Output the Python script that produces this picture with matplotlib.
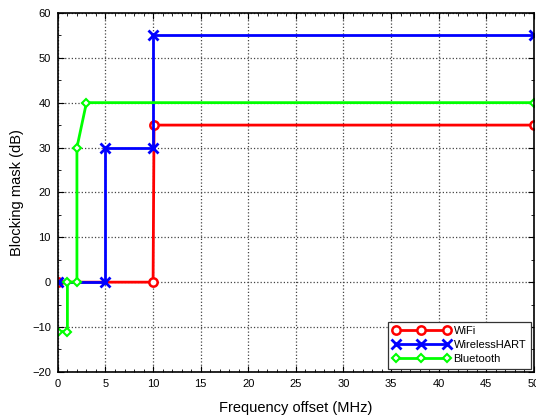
import matplotlib
matplotlib.use("Agg")
import matplotlib.pyplot as plt
from matplotlib.ticker import MultipleLocator

wifi_x = [0, 10, 10.1, 50]
wifi_y = [0, 0, 35, 35]
hart_x = [0, 5, 5, 10, 10, 50]
hart_y = [0, 0, 30, 30, 55, 55]
bt_x = [0, 1, 1, 2, 2, 3, 50]
bt_y = [-11, -11, 0, 0, 30, 40, 40]

plt.rcParams['font.family'] = ['Liberation Sans', 'DejaVu Sans']
fig = plt.figure(figsize=(5.36, 4.16), dpi=100)
ax = fig.add_axes([0.108, 0.106, 0.888, 0.863])

ax.plot(wifi_x, wifi_y, color='#ff0000', lw=2, marker='o', ms=6, mfc='white', mew=1.8, label='WiFi')
ax.plot(hart_x, hart_y, color='#0000ff', lw=2, marker='x', ms=7, mew=2, label='WirelessHART')
ax.plot(bt_x, bt_y, color='#00ff00', lw=2, marker='D', ms=4, mfc='white', mew=1.5, label='Bluetooth')

ax.set_xlim(0, 50)
ax.set_ylim(-20, 60)
ax.xaxis.set_major_locator(MultipleLocator(5))
ax.xaxis.set_minor_locator(MultipleLocator(1))
ax.yaxis.set_major_locator(MultipleLocator(10))
ax.yaxis.set_minor_locator(MultipleLocator(5))
ax.tick_params(which='both', direction='in', top=True, right=True, labelsize=8)
ax.tick_params(which='major', length=4, pad=5)
ax.tick_params(which='minor', length=2)
ax.grid(True, which='major', color='#444444', linestyle=':', linewidth=0.9)
for s in ax.spines.values():
    s.set_linewidth(1.2)

ax.set_xlabel('Frequency offset (MHz)', fontsize=10.5, labelpad=9)
ax.set_ylabel('Blocking mask (dB)', fontsize=10.5, labelpad=6)

leg = ax.legend(loc='lower right', numpoints=3, fontsize=8, fancybox=False,
                edgecolor='#333333', framealpha=1, handlelength=5.2, borderpad=0.4,
                labelspacing=0.35, handletextpad=0.3, borderaxespad=0.3)
leg.get_frame().set_linewidth(0.9)

fig.savefig('out.png', dpi=100)
